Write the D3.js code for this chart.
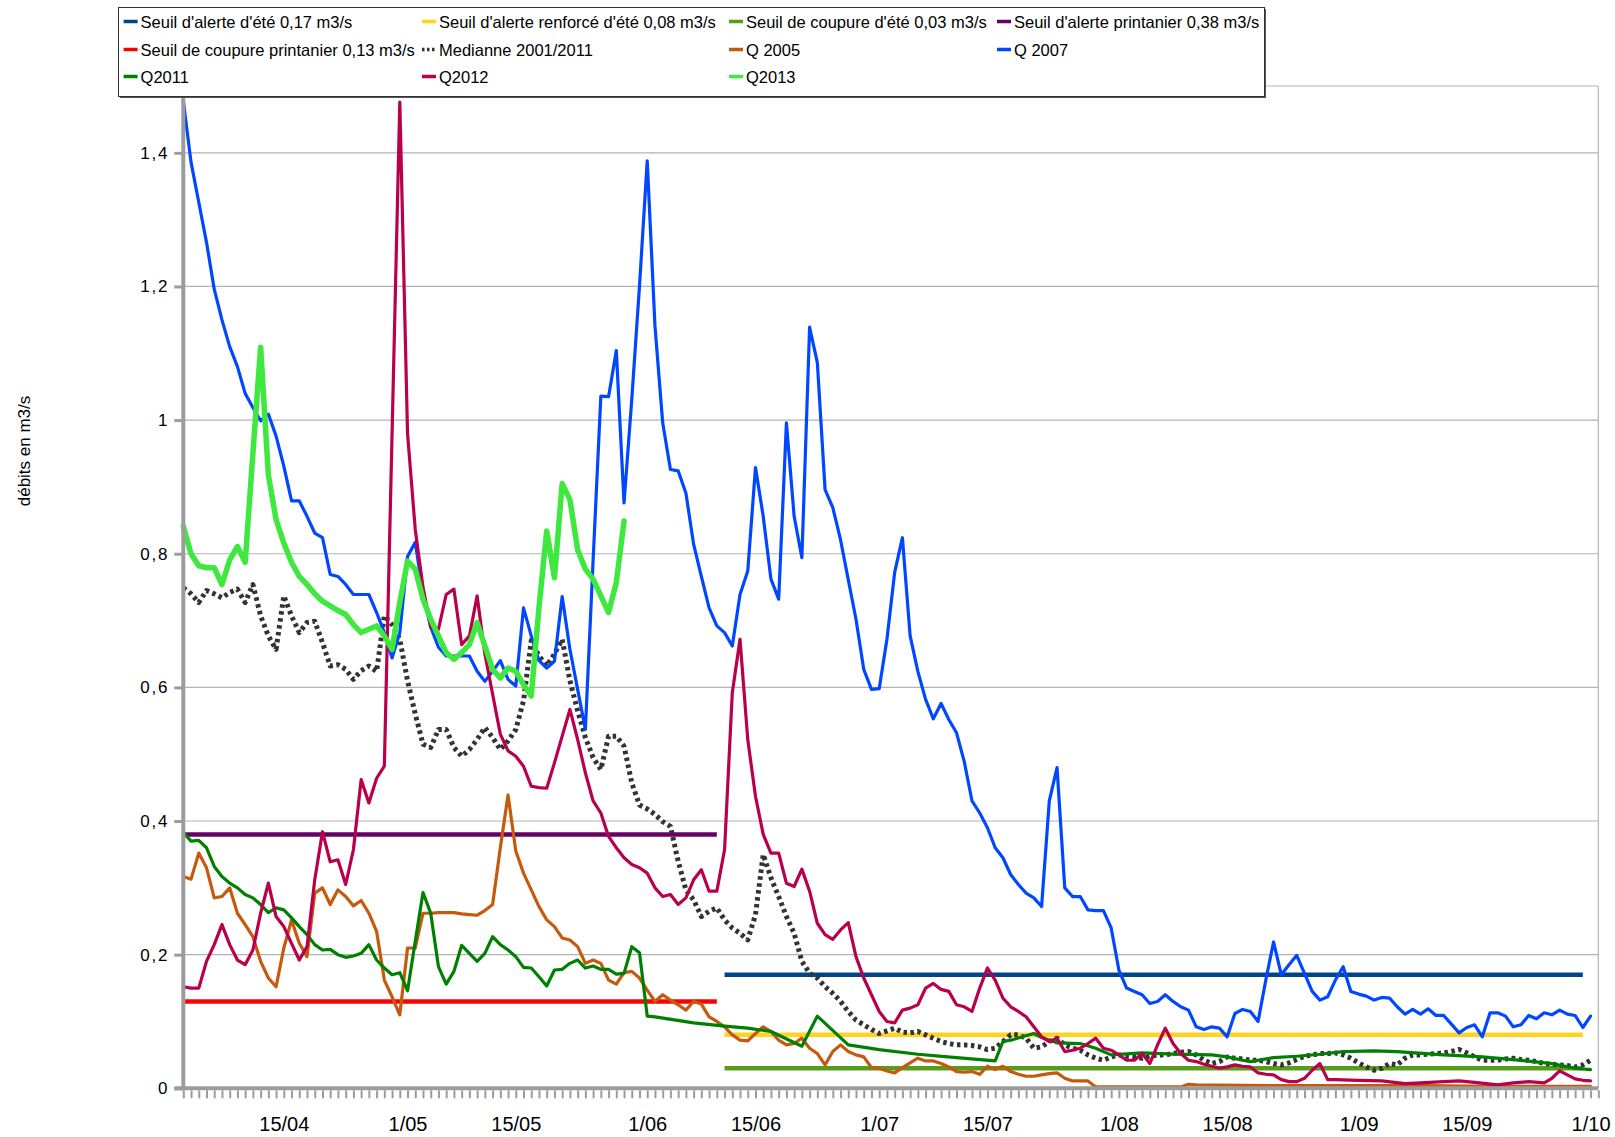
<!DOCTYPE html>
<html><head><meta charset="utf-8">
<script src="https://cdn.jsdelivr.net/npm/d3@7"></script>
<style>body{margin:0;background:#fff}svg{display:block}</style>
</head><body>
<svg id="chart" width="1615" height="1137"></svg>
<script>
// ---------- DATA ----------
const startDate = "2013-04-02";            // day 0 of every series
const endDate = "2013-10-02";
const xTickDates = ["2013-04-15","2013-05-01","2013-05-15","2013-06-01","2013-06-15","2013-07-01","2013-07-15","2013-08-01","2013-08-15","2013-09-01","2013-09-15","2013-10-01"];
const xTickLabels = ["15/04","1/05","15/05","1/06","15/06","1/07","15/07","1/08","15/08","1/09","15/09","1/10"];
const yTicks = [0,0.2,0.4,0.6,0.8,1,1.2,1.4];
const yTickLabels = ["0","0,2","0,4","0,6","0,8","1","1,2","1,4"];
const yMax = 1.5;
const yTitle = "débits en m3/s";

// thresholds: [firstDay, lastDay, value]
const seuilAlerteEte = [70,181,0.17];
const seuilRenforceEte = [70,181,0.08];
const seuilCoupureEte = [70,181,0.03];
const seuilAlertePrint = [0,69,0.38];
const seuilCoupurePrint = [0,69,0.13];

// series: [day, value]
const mediane = [[0,0.749],[1,0.74],[2,0.727],[3,0.745],[4,0.74],[5,0.734],[6,0.742],[7,0.747],[8,0.727],[9,0.754],[10,0.707],[11,0.677],[12,0.657],[13,0.737],[14,0.707],[15,0.682],[16,0.697],[17,0.699],[18,0.667],[19,0.632],[20,0.634],[21,0.627],[22,0.612],[23,0.625],[24,0.632],[25,0.624],[26,0.707],[27,0.694],[28,0.672],[29,0.61],[30,0.56],[31,0.515],[32,0.51],[33,0.537],[34,0.537],[35,0.51],[36,0.497],[37,0.507],[38,0.522],[39,0.54],[40,0.525],[41,0.507],[42,0.52],[43,0.537],[44,0.58],[45,0.67],[46,0.647],[47,0.632],[48,0.65],[49,0.672],[50,0.61],[51,0.565],[52,0.525],[53,0.495],[54,0.477],[55,0.527],[56,0.527],[57,0.512],[58,0.457],[59,0.424],[60,0.418],[61,0.41],[62,0.399],[63,0.392],[64,0.34],[65,0.297],[66,0.282],[67,0.257],[68,0.265],[69,0.27],[70,0.252],[71,0.24],[72,0.232],[73,0.222],[74,0.26],[75,0.35],[76,0.315],[77,0.287],[78,0.257],[79,0.232],[80,0.19],[81,0.172],[82,0.165],[83,0.152],[84,0.142],[85,0.13],[86,0.115],[87,0.102],[88,0.095],[89,0.088],[90,0.082],[91,0.086],[92,0.09],[93,0.084],[94,0.083],[95,0.085],[96,0.08],[97,0.075],[98,0.07],[99,0.067],[100,0.065],[101,0.065],[102,0.064],[103,0.062],[104,0.058],[105,0.06],[106,0.07],[107,0.08],[108,0.08],[109,0.075],[110,0.06],[111,0.062],[112,0.07],[113,0.075],[114,0.065],[115,0.06],[116,0.057],[117,0.05],[118,0.045],[119,0.042],[120,0.047],[121,0.05],[122,0.048],[123,0.047],[124,0.045],[125,0.048],[126,0.05],[127,0.05],[128,0.052],[129,0.054],[130,0.055],[131,0.05],[132,0.042],[133,0.037],[134,0.04],[135,0.047],[136,0.045],[137,0.044],[138,0.042],[139,0.042],[140,0.04],[141,0.037],[142,0.035],[143,0.038],[144,0.043],[145,0.048],[146,0.05],[147,0.052],[148,0.052],[149,0.053],[150,0.05],[151,0.045],[152,0.038],[153,0.032],[154,0.027],[155,0.03],[156,0.037],[157,0.035],[158,0.045],[159,0.05],[160,0.05],[161,0.051],[162,0.052],[163,0.053],[164,0.055],[165,0.058],[166,0.053],[167,0.047],[168,0.042],[169,0.042],[170,0.042],[171,0.044],[172,0.045],[173,0.043],[174,0.042],[175,0.04],[176,0.037],[177,0.036],[178,0.035],[179,0.034],[180,0.032],[181,0.035],[182,0.042]];

const q2005 = [[0,0.317],[1,0.313],[2,0.352],[3,0.33],[4,0.285],[5,0.287],[6,0.3],[7,0.262],[8,0.245],[9,0.227],[10,0.19],[11,0.165],[12,0.152],[13,0.21],[14,0.252],[15,0.217],[16,0.197],[17,0.292],[18,0.3],[19,0.275],[20,0.297],[21,0.287],[22,0.273],[23,0.281],[24,0.262],[25,0.235],[26,0.162],[27,0.137],[28,0.11],[29,0.21],[30,0.21],[31,0.262],[32,0.262],[33,0.263],[34,0.263],[35,0.263],[36,0.261],[37,0.26],[38,0.259],[39,0.266],[40,0.275],[41,0.36],[42,0.439],[43,0.355],[44,0.322],[45,0.297],[46,0.272],[47,0.252],[48,0.242],[49,0.225],[50,0.222],[51,0.212],[52,0.187],[53,0.192],[54,0.187],[55,0.162],[56,0.156],[57,0.173],[58,0.175],[59,0.165],[60,0.147],[61,0.13],[62,0.14],[63,0.132],[64,0.125],[65,0.117],[66,0.13],[67,0.126],[68,0.107],[69,0.1],[70,0.092],[71,0.08],[72,0.072],[73,0.071],[74,0.082],[75,0.092],[76,0.085],[77,0.072],[78,0.065],[79,0.067],[80,0.075],[81,0.06],[82,0.052],[83,0.035],[84,0.055],[85,0.065],[86,0.055],[87,0.05],[88,0.047],[89,0.031],[90,0.03],[91,0.026],[92,0.023],[93,0.031],[94,0.038],[95,0.045],[96,0.041],[97,0.041],[98,0.037],[99,0.032],[100,0.025],[101,0.024],[102,0.025],[103,0.021],[104,0.033],[105,0.028],[106,0.033],[107,0.025],[108,0.021],[109,0.018],[110,0.018],[111,0.02],[112,0.022],[113,0.023],[114,0.015],[115,0.011],[116,0.011],[117,0.011],[118,0.002],[124,0.002],[129,0.002],[130,0.006],[131,0.005],[140,0.004],[150,0.004],[160,0.004],[170,0.003],[182,0.003]];

const q2007 = [[0,1.478],[1,1.386],[2,1.326],[3,1.266],[4,1.196],[5,1.15],[6,1.11],[7,1.08],[8,1.04],[9,1.019],[10,0.999],[11,1.009],[12,0.976],[13,0.931],[14,0.879],[15,0.879],[16,0.856],[17,0.831],[18,0.824],[19,0.769],[20,0.766],[21,0.754],[22,0.739],[23,0.739],[24,0.739],[25,0.712],[26,0.682],[27,0.644],[28,0.682],[29,0.796],[30,0.817],[31,0.74],[32,0.69],[33,0.66],[34,0.647],[35,0.647],[36,0.647],[37,0.647],[38,0.624],[39,0.609],[40,0.624],[41,0.64],[42,0.612],[43,0.602],[44,0.719],[45,0.677],[46,0.64],[47,0.629],[48,0.639],[49,0.736],[50,0.657],[51,0.597],[52,0.537],[53,0.79],[54,1.036],[55,1.035],[56,1.104],[57,0.876],[58,1.031],[59,1.201],[60,1.388],[61,1.141],[62,0.996],[63,0.926],[64,0.924],[65,0.891],[66,0.814],[67,0.766],[68,0.719],[69,0.692],[70,0.682],[71,0.662],[72,0.739],[73,0.774],[74,0.929],[75,0.856],[76,0.762],[77,0.732],[78,0.996],[79,0.856],[80,0.794],[81,1.139],[82,1.086],[83,0.896],[84,0.869],[85,0.821],[86,0.761],[87,0.702],[88,0.627],[89,0.597],[90,0.598],[91,0.672],[92,0.772],[93,0.824],[94,0.677],[95,0.624],[96,0.582],[97,0.553],[98,0.576],[99,0.552],[100,0.532],[101,0.489],[102,0.43],[103,0.412],[104,0.39],[105,0.36],[106,0.345],[107,0.32],[108,0.305],[109,0.292],[110,0.285],[111,0.272],[112,0.43],[113,0.48],[114,0.3],[115,0.287],[116,0.287],[117,0.267],[118,0.266],[119,0.266],[120,0.24],[121,0.177],[122,0.15],[123,0.145],[124,0.14],[125,0.127],[126,0.13],[127,0.14],[128,0.13],[129,0.122],[130,0.117],[131,0.092],[132,0.088],[133,0.092],[134,0.09],[135,0.077],[136,0.112],[137,0.118],[138,0.115],[139,0.1],[140,0.162],[141,0.219],[142,0.17],[143,0.185],[144,0.199],[145,0.172],[146,0.145],[147,0.132],[148,0.137],[149,0.162],[150,0.182],[151,0.145],[152,0.141],[153,0.138],[154,0.132],[155,0.136],[156,0.135],[157,0.122],[158,0.111],[159,0.118],[160,0.111],[161,0.119],[162,0.109],[163,0.109],[164,0.096],[165,0.083],[166,0.091],[167,0.095],[168,0.077],[169,0.113],[170,0.113],[171,0.108],[172,0.092],[173,0.095],[174,0.109],[175,0.104],[176,0.113],[177,0.11],[178,0.117],[179,0.111],[180,0.109],[181,0.091],[182,0.108]];

const q2011 = [[0,0.383],[1,0.37],[2,0.371],[3,0.36],[4,0.332],[5,0.317],[6,0.307],[7,0.3],[8,0.29],[9,0.285],[10,0.275],[11,0.263],[12,0.27],[13,0.267],[14,0.255],[15,0.242],[16,0.23],[17,0.215],[18,0.207],[19,0.208],[20,0.2],[21,0.196],[22,0.198],[23,0.202],[24,0.215],[25,0.192],[26,0.18],[27,0.17],[28,0.173],[29,0.146],[30,0.22],[31,0.293],[32,0.262],[33,0.182],[34,0.156],[35,0.175],[36,0.214],[37,0.202],[38,0.19],[39,0.202],[40,0.227],[41,0.215],[42,0.207],[43,0.197],[44,0.181],[45,0.18],[46,0.167],[47,0.153],[48,0.177],[49,0.178],[50,0.187],[51,0.192],[52,0.18],[53,0.183],[54,0.178],[55,0.178],[56,0.171],[57,0.172],[58,0.212],[59,0.203],[60,0.108],[61,0.107],[66,0.098],[70,0.093],[73,0.09],[76,0.085],[80,0.063],[82,0.108],[86,0.065],[90,0.058],[95,0.051],[100,0.046],[105,0.041],[106,0.07],[107,0.072],[110,0.082],[111,0.076],[113,0.068],[116,0.067],[118,0.06],[120,0.05],[124,0.053],[128,0.051],[133,0.05],[135,0.047],[137,0.042],[138,0.04],[141,0.046],[144,0.048],[147,0.051],[150,0.055],[154,0.056],[157,0.055],[163,0.05],[168,0.047],[172,0.043],[177,0.037],[180,0.03],[182,0.028]];

const q2012 = [[0,0.152],[1,0.15],[2,0.15],[3,0.19],[4,0.215],[5,0.245],[6,0.215],[7,0.192],[8,0.185],[9,0.207],[10,0.262],[11,0.307],[12,0.257],[13,0.242],[14,0.217],[15,0.192],[16,0.212],[17,0.312],[18,0.384],[19,0.339],[20,0.342],[21,0.305],[22,0.357],[23,0.462],[24,0.427],[25,0.464],[26,0.482],[27,0.98],[28,1.476],[29,0.98],[30,0.836],[31,0.75],[32,0.69],[33,0.687],[34,0.739],[35,0.747],[36,0.664],[37,0.677],[38,0.737],[39,0.65],[40,0.59],[41,0.53],[42,0.505],[43,0.497],[44,0.482],[45,0.452],[46,0.45],[47,0.449],[48,0.487],[49,0.527],[50,0.567],[51,0.522],[52,0.472],[53,0.43],[54,0.412],[55,0.377],[56,0.36],[57,0.345],[58,0.335],[59,0.33],[60,0.322],[61,0.3],[62,0.287],[63,0.29],[64,0.275],[65,0.285],[66,0.312],[67,0.327],[68,0.295],[69,0.295],[70,0.357],[71,0.592],[72,0.672],[73,0.522],[74,0.437],[75,0.38],[76,0.352],[77,0.352],[78,0.307],[79,0.302],[80,0.328],[81,0.295],[82,0.247],[83,0.23],[84,0.223],[85,0.237],[86,0.248],[87,0.197],[88,0.165],[89,0.14],[90,0.115],[91,0.1],[92,0.098],[93,0.117],[94,0.12],[95,0.125],[96,0.15],[97,0.157],[98,0.148],[99,0.145],[100,0.125],[101,0.122],[102,0.115],[103,0.15],[104,0.18],[105,0.162],[106,0.135],[107,0.122],[108,0.115],[109,0.107],[110,0.092],[111,0.077],[112,0.07],[113,0.075],[114,0.055],[115,0.057],[116,0.06],[117,0.067],[118,0.075],[119,0.06],[120,0.057],[121,0.05],[122,0.042],[123,0.042],[124,0.052],[125,0.037],[126,0.065],[127,0.09],[128,0.067],[129,0.052],[130,0.042],[131,0.04],[132,0.036],[133,0.033],[134,0.03],[135,0.032],[136,0.035],[137,0.033],[138,0.032],[139,0.023],[140,0.021],[141,0.02],[142,0.013],[143,0.01],[144,0.01],[145,0.015],[146,0.027],[147,0.037],[148,0.013],[149,0.013],[152,0.012],[155,0.011],[158,0.007],[160,0.008],[163,0.01],[165,0.011],[167,0.009],[170,0.005],[172,0.008],[174,0.01],[176,0.008],[177,0.015],[178,0.026],[179,0.02],[180,0.014],[181,0.012],[182,0.011]];

const q2013 = [[0,0.841],[1,0.8],[2,0.782],[3,0.779],[4,0.779],[5,0.754],[6,0.791],[7,0.811],[8,0.787],[9,0.95],[10,1.109],[11,0.918],[12,0.851],[13,0.816],[14,0.787],[15,0.766],[16,0.754],[17,0.74],[18,0.729],[19,0.722],[20,0.715],[21,0.709],[22,0.694],[23,0.682],[24,0.687],[25,0.692],[26,0.677],[27,0.657],[28,0.727],[29,0.789],[30,0.777],[31,0.732],[32,0.702],[33,0.677],[34,0.652],[35,0.642],[36,0.652],[37,0.664],[38,0.697],[39,0.662],[40,0.627],[41,0.614],[42,0.629],[43,0.624],[44,0.604],[45,0.587],[46,0.72],[47,0.834],[48,0.764],[49,0.905],[50,0.881],[51,0.806],[52,0.777],[53,0.762],[54,0.737],[55,0.712],[56,0.757],[57,0.849]];

const legendNames = ["Seuil d'alerte d'été 0,17 m3/s","Seuil d'alerte renforcé d'été 0,08 m3/s","Seuil de coupure d'été 0,03 m3/s","Seuil d'alerte printanier 0,38 m3/s","Seuil de coupure printanier 0,13 m3/s","Medianne 2001/2011","Q 2005","Q 2007","Q2011","Q2012","Q2013"];

// ---------- STYLE ----------
const W = 1615, H = 1137;
const plot = {left:183.3, right:1598.3, top:86, bottom:1088.3};
const styles = [
  {color:"#004586", width:4.5},
  {color:"#ffd320", width:4.5},
  {color:"#579d1c", width:4.5},
  {color:"#660066", width:4.5},
  {color:"#ff0000", width:4.5},
  {color:"#333333", width:5, dash:"3.5,3.5"},
  {color:"#c55a0e", width:3.2},
  {color:"#0047ff", width:3.2},
  {color:"#008000", width:3.2},
  {color:"#b8004d", width:3.2},
  {color:"#3ee83e", width:5.5}
];

const parse = d3.timeParse("%Y-%m-%d");
const t0 = parse(startDate);
const dayToDate = d => d3.timeDay.offset(t0, d);

const x = d3.scaleTime().domain([t0, parse(endDate)]).range([plot.left, plot.right]);
const y = d3.scaleLinear().domain([0, yMax]).range([plot.bottom, plot.top]);

const svg = d3.select("#chart");
svg.append("rect").attr("width",W).attr("height",H).attr("fill","#fff");

// grid
const grid = svg.append("g");
grid.selectAll("line.h").data(yTicks.filter(v=>v>0).concat([yMax])).enter().append("line")
  .attr("x1",plot.left).attr("x2",plot.right)
  .attr("y1",d=>y(d)).attr("y2",d=>y(d))
  .attr("stroke","#b3b3b3").attr("stroke-width",1.2);
grid.append("line").attr("x1",plot.right).attr("x2",plot.right).attr("y1",y(yMax)).attr("y2",y(0))
  .attr("stroke","#b3b3b3").attr("stroke-width",1.2);

// series
const thresholdSeries = [seuilAlerteEte,seuilRenforceEte,seuilCoupureEte,seuilAlertePrint,seuilCoupurePrint]
  .map(t => [[t[0],t[2]],[t[1],t[2]]]);
const allSeries = thresholdSeries.concat([mediane,q2005,q2007,q2011,q2012,q2013]);

const line = d3.line().x(d=>x(dayToDate(d[0]))).y(d=>y(d[1]));
const lines = svg.append("g");
allSeries.forEach((s,i) => {
  const st = styles[i];
  const p = lines.append("path").datum(s).attr("d",line)
    .attr("fill","none").attr("stroke",st.color).attr("stroke-width",st.width)
    .attr("stroke-linejoin","round");
  if (st.dash) p.attr("stroke-dasharray",st.dash).attr("stroke-linecap","butt");
  else p.attr("stroke-linecap", i<5 ? "butt" : "round");
});

// axes
const axisColor = "#9c9c9c";
const days = d3.timeDay.range(t0, d3.timeDay.offset(parse(endDate),1));
const xAxisTicks = svg.append("g").attr("transform",`translate(0,${plot.bottom})`)
  .call(d3.axisBottom(x).tickValues(days).tickSize(10).tickSizeOuter(0).tickFormat(""));
xAxisTicks.select(".domain").remove();
xAxisTicks.selectAll(".tick line").attr("stroke",axisColor).attr("stroke-width",2).attr("y1",2);

const xLab = svg.append("g").attr("transform",`translate(0,${plot.bottom})`)
  .call(d3.axisBottom(x).tickValues(xTickDates.map(parse)).tickSize(0)
    .tickFormat((d,i)=>xTickLabels[i]));
xLab.select(".domain").remove();
xLab.selectAll("text").attr("y",36).attr("dy",0)
  .attr("font-family","'Liberation Sans Narrow', 'Liberation Sans', sans-serif")
  .attr("font-size",20).attr("fill","#000").attr("dominant-baseline","central");

const yAx = svg.append("g").attr("transform",`translate(${plot.left},0)`)
  .call(d3.axisLeft(y).tickValues(yTicks).tickSize(9).tickFormat((d,i)=>yTickLabels[i]));
yAx.select(".domain").remove();
yAx.selectAll(".tick line").attr("stroke",axisColor).attr("stroke-width",3);
yAx.selectAll("text").attr("x",-14).attr("dy",0).attr("dominant-baseline","central")
  .attr("font-family","'Liberation Sans', Arial, sans-serif").attr("font-size",17)
  .attr("letter-spacing","1.8px").attr("fill","#000");

svg.append("line").attr("x1",plot.left).attr("x2",plot.left).attr("y1",plot.top).attr("y2",plot.bottom+2)
  .attr("stroke",axisColor).attr("stroke-width",4);
svg.append("line").attr("x1",plot.left-9).attr("x2",plot.right).attr("y1",plot.bottom).attr("y2",plot.bottom)
  .attr("stroke",axisColor).attr("stroke-width",4);

// y title
svg.append("text").attr("transform","translate(24,451) rotate(-90)")
  .attr("text-anchor","middle").attr("dominant-baseline","central")
  .attr("font-family","'Liberation Sans Narrow', 'Liberation Sans', sans-serif")
  .attr("font-size",17).attr("fill","#000").text(yTitle);

// legend
const lg = svg.append("g");
lg.append("rect").attr("x",120).attr("y",9).attr("width",1146).attr("height",89).attr("fill","#555");
lg.append("rect").attr("x",118.5).attr("y",7.5).attr("width",1146).attr("height",89)
  .attr("fill","#fff").attr("stroke","#333").attr("stroke-width",1);
const colX = [123.6, 422, 729, 997];
const rowY = [21.5, 49.5, 76.5];
legendNames.forEach((name,i) => {
  const cx = colX[i%4], cy = rowY[Math.floor(i/4)];
  const st = styles[i];
  const m = lg.append("line").attr("x1",cx).attr("x2",cx+14).attr("y1",cy).attr("y2",cy)
    .attr("stroke",st.color).attr("stroke-width",3.5);
  if (st.dash) m.attr("stroke-dasharray","2.5,2.5");
  lg.append("text").attr("x",cx+17).attr("y",cy).attr("dominant-baseline","central")
    .attr("font-family","'Liberation Sans', Arial, sans-serif").attr("font-size",16.5)
    .attr("fill","#000").text(name);
});
</script>
</body></html>
